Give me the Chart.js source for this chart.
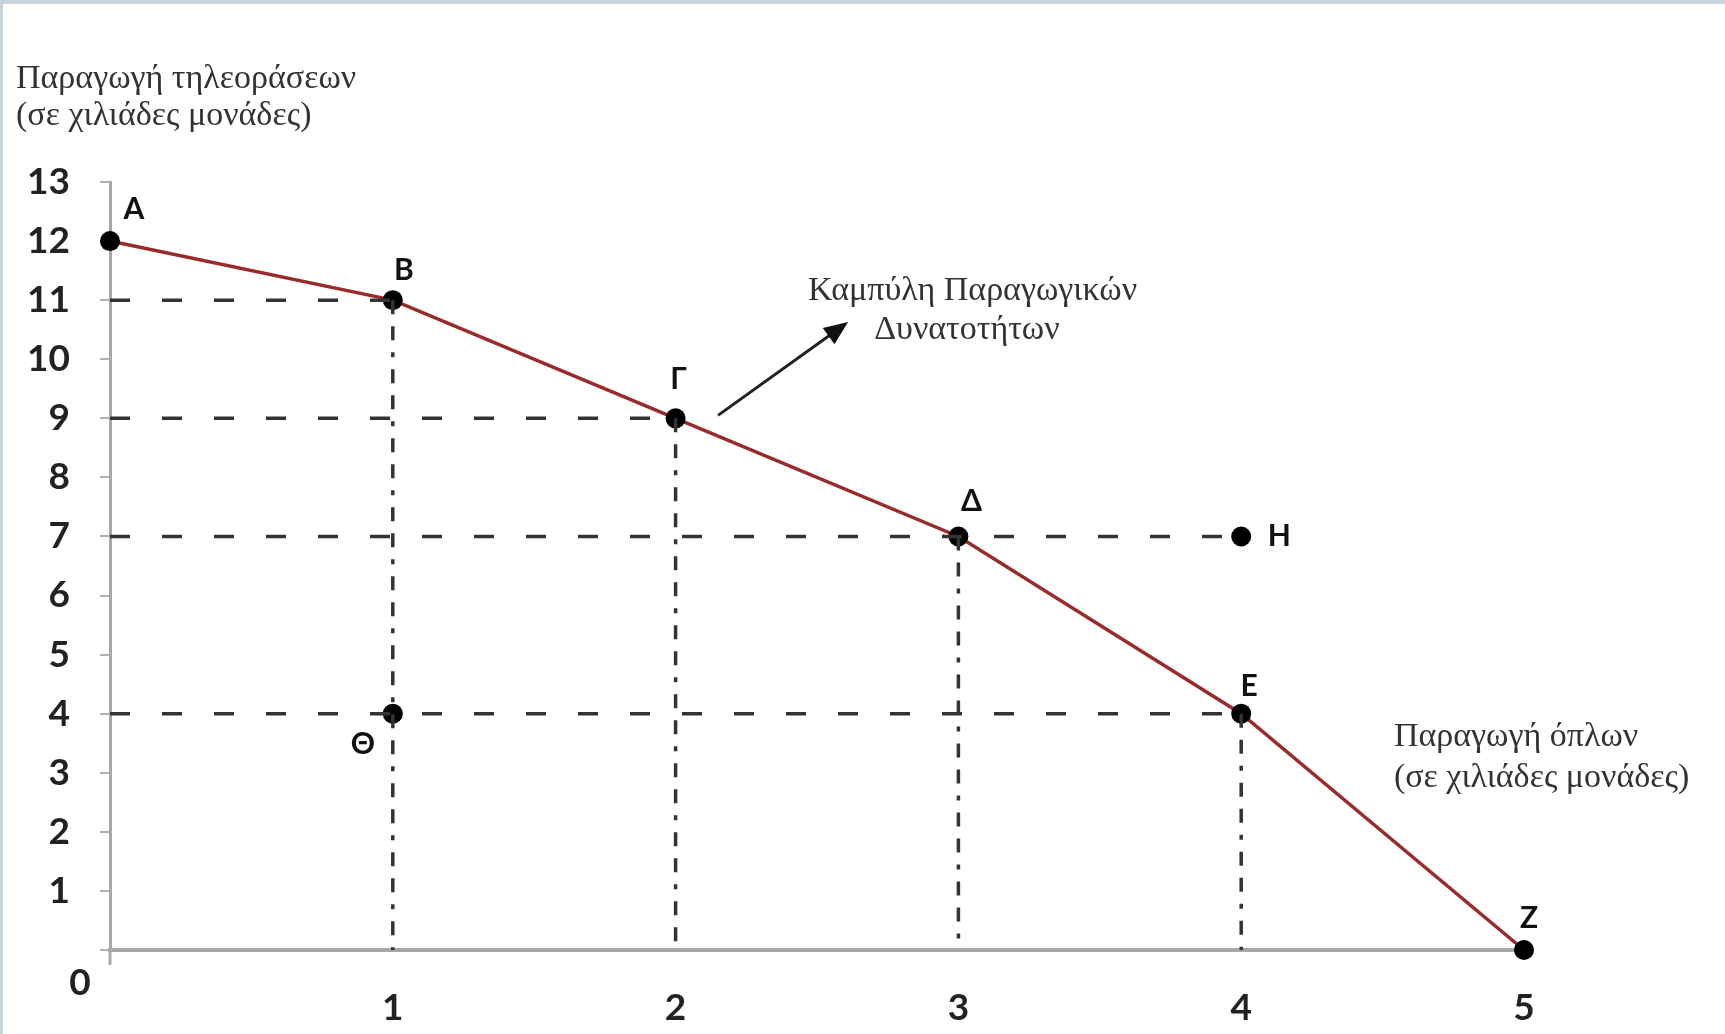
<!DOCTYPE html>
<html>
<head>
<meta charset="utf-8">
<script src="https://cdn.jsdelivr.net/npm/chart.js@4"></script>
<style>
  html, body { margin: 0; padding: 0; background: #fff; }
  #wrap { position: relative; width: 1725px; height: 1034px; }
  #topbar { position: absolute; left: 0; top: 0; width: 1725px; height: 4px; background: #c9d3da; }
  #leftbar { position: absolute; left: 0; top: 0; width: 3px; height: 1034px; background: #c9d3da; }
</style>
</head>
<body>
<div id="wrap">
  <canvas id="ppf" width="1725" height="1034"></canvas>
  <div id="topbar"></div>
  <div id="leftbar"></div>
</div>
<script>
// production possibilities: weapons (x) vs televisions (y), thousands of units
const curveNames = ['Α', 'Β', 'Γ', 'Δ', 'Ε', 'Ζ'];
const weapons = [0, 1, 2, 3, 4, 5];
const televisions = [12, 11, 9, 7, 4, 0];

const otherNames = ['Θ', 'Η'];
const otherWeapons = [1, 4];
const otherTelevisions = [4, 7];

// dashed guide lines
const hGuideY = [11, 9, 7, 4];
const hGuideEndX = [1, 2, 4, 4];
const vGuideX = [1, 2, 3, 4];
const vGuideTopY = [11, 9, 7, 4];

const xTicks = [0, 1, 2, 3, 4, 5];
const yTicks = [0, 1, 2, 3, 4, 5, 6, 7, 8, 9, 10, 11, 12, 13];

const yTitle = ['Παραγωγή τηλεοράσεων', '(σε χιλιάδες μονάδες)'];
const xTitle = ['Παραγωγή όπλων', '(σε χιλιάδες μονάδες)'];
const curveTitle = ['Καμπύλη Παραγωγικών', 'Δυνατοτήτων'];

// label offsets in pixels from each point
const labelOffsets = {
    'Α': [24, -32], 'Β': [11, -30], 'Γ': [3, -39], 'Δ': [13, -35],
    'Ε': [8, -27], 'Ζ': [5, -32], 'Θ': [-30, 31], 'Η': [38, 0]
};

const sansFont = 'Lato, "Open Sans", sans-serif';
const serifFont = '"Liberation Serif", "DejaVu Serif", serif';

const datasets = [];
hGuideY.forEach((yv, i) => {
    datasets.push({
        data: [{x: 0, y: yv}, {x: hGuideEndX[i], y: yv}],
        showLine: true, borderColor: '#333', borderWidth: 3.5,
        borderDash: [20, 32], pointRadius: 0
    });
});
vGuideX.forEach((xv, i) => {
    datasets.push({
        data: [{x: xv, y: vGuideTopY[i]}, {x: xv, y: 0}],
        showLine: true, borderColor: '#333', borderWidth: 3.5,
        borderDash: [14, 12, 14, 12, 5, 12], pointRadius: 0
    });
});
datasets.push({
    data: weapons.map((w, i) => ({x: w, y: televisions[i]})),
    showLine: true, borderColor: '#9a2b2b', borderWidth: 3.5, clip: false,
    pointRadius: 10, pointBackgroundColor: '#000', pointBorderColor: '#000', pointBorderWidth: 0
});
datasets.push({
    data: otherWeapons.map((w, i) => ({x: w, y: otherTelevisions[i]})),
    showLine: false, clip: false,
    pointRadius: 10, pointBackgroundColor: '#000', pointBorderColor: '#000', pointBorderWidth: 0
});

const annotate = {
    id: 'annotate',
    beforeDatasetsDraw(chart) {
        const {ctx, scales: {x, y}} = chart;
        ctx.save();
        ctx.strokeStyle = '#a8a8a8';
        ctx.lineWidth = 3;
        ctx.beginPath();
        ctx.moveTo(x.getPixelForValue(0), y.getPixelForValue(0));
        ctx.lineTo(x.getPixelForValue(0), y.getPixelForValue(0) + 15);
        ctx.stroke();
        ctx.restore();
    },
    afterDatasetsDraw(chart) {
        const {ctx, chartArea, scales: {x, y}} = chart;
        ctx.save();
        ctx.textAlign = 'center';
        ctx.textBaseline = 'middle';
        ctx.fillStyle = '#111';
        ctx.font = 'bold 30px ' + sansFont;
        curveNames.forEach((n, i) => {
            const o = labelOffsets[n];
            ctx.fillText(n, x.getPixelForValue(weapons[i]) + o[0], y.getPixelForValue(televisions[i]) + o[1]);
        });
        otherNames.forEach((n, i) => {
            const o = labelOffsets[n];
            ctx.fillText(n, x.getPixelForValue(otherWeapons[i]) + o[0], y.getPixelForValue(otherTelevisions[i]) + o[1]);
        });

        // origin label sits below-left of the corner
        ctx.fillStyle = '#222';
        ctx.font = 'bold 37px ' + sansFont;
        ctx.fillText('0', x.getPixelForValue(0) - 30, y.getPixelForValue(0) + 33);

        // axis titles and curve label
        ctx.fillStyle = '#333';
        ctx.font = '34px ' + serifFont;
        ctx.textAlign = 'left';
        ctx.fillText(yTitle[0], chartArea.left - 94, 79);
        ctx.fillText(yTitle[1], chartArea.left - 94, 116);
        ctx.fillText(xTitle[0], x.getPixelForValue(4.54), y.getPixelForValue(3.6));
        ctx.fillText(xTitle[1], x.getPixelForValue(4.54), y.getPixelForValue(2.91));
        ctx.textAlign = 'center';
        ctx.fillText(curveTitle[0], x.getPixelForValue(3.05), y.getPixelForValue(11.15));
        ctx.fillText(curveTitle[1], x.getPixelForValue(3.03), y.getPixelForValue(10.5));

        // arrow pointing at the curve label
        const x0 = x.getPixelForValue(2.15), y0 = y.getPixelForValue(9.05);
        const x1 = x.getPixelForValue(2.61), y1 = y.getPixelForValue(10.63);
        const ang = Math.atan2(y1 - y0, x1 - x0);
        ctx.strokeStyle = '#222';
        ctx.fillStyle = '#111';
        ctx.lineWidth = 3;
        ctx.beginPath();
        ctx.moveTo(x0, y0);
        ctx.lineTo(x1 - 14 * Math.cos(ang), y1 - 14 * Math.sin(ang));
        ctx.stroke();
        ctx.beginPath();
        ctx.moveTo(x1, y1);
        ctx.lineTo(x1 - 24 * Math.cos(ang) + 10 * Math.sin(ang), y1 - 24 * Math.sin(ang) - 10 * Math.cos(ang));
        ctx.lineTo(x1 - 24 * Math.cos(ang) - 10 * Math.sin(ang), y1 - 24 * Math.sin(ang) + 10 * Math.cos(ang));
        ctx.closePath();
        ctx.fill();
        ctx.restore();
    }
};

new Chart('ppf', {
    type: 'scatter',
    data: { datasets: datasets },
    plugins: [annotate],
    options: {
        responsive: false,
        animation: false,
        devicePixelRatio: 1,
        layout: { padding: { left: 0, top: 182, right: 201, bottom: 0 } },
        plugins: {
            legend: { display: false },
            tooltip: { enabled: false }
        },
        elements: { line: { tension: 0 } },
        scales: {
            x: {
                type: 'linear',
                min: 0, max: 5,
                afterBuildTicks: s => { s.ticks = xTicks.map(v => ({value: v})); },
                afterFit: s => { s.height = 84; },
                grid: { display: false, drawTicks: false },
                border: { display: true, color: '#a8a8a8', width: 4 },
                ticks: {
                    padding: 36,
                    color: '#222',
                    font: { family: sansFont, size: 37, weight: 'bold' },
                    callback: v => (v === 0 ? '' : String(v))
                }
            },
            y: {
                type: 'linear',
                min: 0, max: 13,
                afterBuildTicks: s => { s.ticks = yTicks.map(v => ({value: v})); },
                afterFit: s => { s.width = 110; },
                grid: { drawOnChartArea: false, drawTicks: true, tickLength: 10, color: '#b0b0b0', lineWidth: 2 },
                border: { display: true, color: '#a8a8a8', width: 3 },
                ticks: {
                    padding: 30,
                    color: '#222',
                    font: { family: sansFont, size: 37, weight: 'bold' },
                    callback: v => (v === 0 ? '' : String(v))
                }
            }
        }
    }
});
</script>
</body>
</html>
